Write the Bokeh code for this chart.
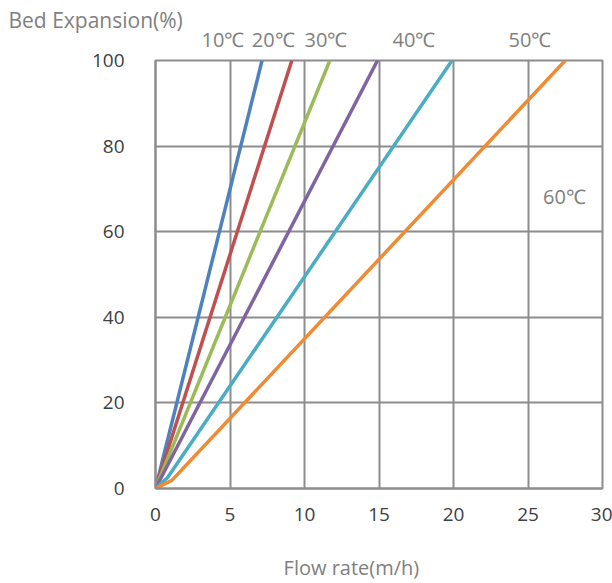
from bokeh.plotting import figure
from bokeh.models import Range1d, FixedTicker, Label, LinearAxis, Title
from bokeh.embed import file_html
from bokeh.resources import INLINE

# Data
series_names = ["10℃", "20℃", "30℃", "40℃", "50℃", "60℃"]
x_10 = [0, 7.15]
y_10 = [0, 100]
x_20 = [0, 9.15]
y_20 = [0, 100]
x_30 = [0, 11.7]
y_30 = [0, 100]
x_40 = [0, 14.9]
y_40 = [0, 100]
x_50 = [0, 0.8, 19.9]
y_50 = [0, 2.5, 100]
x_60 = [0, 1.1, 27.5]
y_60 = [0, 1.9, 100]
colors = ["#4F81BD", "#C0504D", "#9BBB59", "#8064A2", "#4BACC6", "#F08A33"]

# positions of the series name labels
label_x = [4.53, 7.9, 11.44, 17.35, 25.13, 27.45]
label_y = 68.2  # only the 60℃ label sits inside the plot area

x_ticks = [0, 5, 10, 15, 20, 25, 30]
y_ticks = [0, 20, 40, 60, 80, 100]
x_title = "Flow rate(m/h)"
x_title_pos = 13.15
y_title = "Bed Expansion(%)"

W, H = 612, 583
L, R, T, B = 155, 10, 60, 95

p = figure(width=W, height=H, output_backend="svg", toolbar_location=None,
           x_range=Range1d(0, 30), y_range=Range1d(0, 100),
           min_border_left=L, min_border_right=R, min_border_top=T, min_border_bottom=B)

p.background_fill_color = "white"
p.border_fill_color = "white"
p.outline_line_color = "#8c8c8c"
p.outline_line_width = 2

for ax in (p.xaxis, p.yaxis):
    ax.axis_line_color = "#8c8c8c"
    ax.axis_line_width = 2
    ax.major_tick_line_color = None
    ax.minor_tick_line_color = None
    ax.major_label_text_color = "#404040"
    ax.major_label_text_font = "Open Sans"
    ax.major_label_text_font_size = "19px"

p.xaxis.ticker = FixedTicker(ticks=x_ticks)
p.yaxis.ticker = FixedTicker(ticks=y_ticks)
p.xaxis.major_label_standoff = 13
p.yaxis.major_label_standoff = 25

p.xgrid.ticker = FixedTicker(ticks=x_ticks)
p.ygrid.ticker = FixedTicker(ticks=y_ticks)
p.grid.grid_line_color = "#8c8c8c"
p.grid.grid_line_width = 2

xs = [x_10, x_20, x_30, x_40, x_50, x_60]
ys = [y_10, y_20, y_30, y_40, y_50, y_60]
for xv, yv, c in zip(xs, ys, colors):
    p.line(xv, yv, line_color=c, line_width=3.5)


def label_axis(ticks, texts, size, standoff):
    ax = LinearAxis(ticker=FixedTicker(ticks=ticks),
                    major_label_overrides={t: s for t, s in zip(ticks, texts)})
    ax.axis_line_color = None
    ax.major_tick_line_color = None
    ax.minor_tick_line_color = None
    ax.major_label_text_color = "#808080"
    ax.major_label_text_font = "Open Sans"
    ax.major_label_text_font_size = size
    ax.major_label_standoff = standoff
    return ax


# series names above the plot
p.add_layout(label_axis(label_x[:5], series_names[:5], "20px", 2), "above")

# x-axis title below the tick labels
p.add_layout(label_axis([x_title_pos], [x_title], "20px", 24), "below")

# 60℃ inside the plot area
p.add_layout(Label(x=label_x[5], y=label_y, text=series_names[5],
                   text_align="center", text_baseline="middle",
                   text_font="Open Sans", text_font_size="20px", text_color="#808080"))

# y-axis title at top-left
p.add_layout(Title(text=y_title, align="left", offset=-147, standoff=-23,
                   text_font="Open Sans", text_font_size="21px", text_font_style="normal",
                   text_color="#808080"), "above")

open("out.html", "w").write(file_html(p, INLINE))
